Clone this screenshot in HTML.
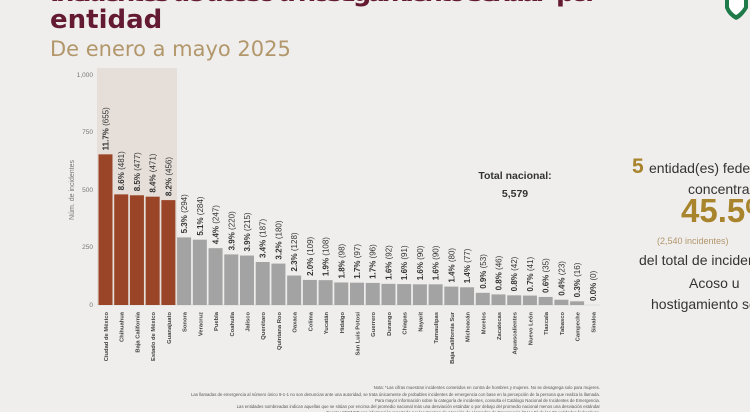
<!DOCTYPE html>
<html><head><meta charset="utf-8"><style>
html,body{margin:0;padding:0;background:#efeeed;}
body{width:750px;height:412px;overflow:hidden;position:relative;font-family:"Liberation Sans","DejaVu Sans",sans-serif;}
</style></head><body>
<svg id="s" width="750" height="412" xmlns="http://www.w3.org/2000/svg" style="position:absolute;left:0;top:0">
<rect width="750" height="412" fill="#efeeed"/>
<text x="50" y="1" font-size="26" font-weight="bold" fill="#641a33" font-family="DejaVu Sans, sans-serif" textLength="548">Incidentes de acoso u hostigamiento sexual* por</text>
<text x="50" y="28" font-size="26" font-weight="bold" fill="#641a33" font-family="DejaVu Sans, sans-serif">entidad</text>
<text x="50" y="56" font-size="21" fill="#b2976b" font-family="DejaVu Sans, sans-serif">De enero a mayo 2025</text>
<path d="M725 0 L748 0 L748 8 Q742 18 736 20 Q728 16 725 8 Z" fill="#1f7a4a"/>
<path d="M729 0 L744 0 L744 7 Q740 13 736 15 Q731 12 729 7 Z" fill="#fff"/>
<rect x="97" y="68" width="80" height="237" fill="#e6dfd9"/>
<line x1="97" y1="305" x2="600" y2="305" stroke="#ccc" stroke-width="0.6"/>
<g font-size="6.5" fill="#777" text-anchor="end">
<text x="93" y="77">1,000</text><text x="93" y="192">500</text><text x="93" y="249">250</text><text x="93" y="307">0</text><text x="93" y="134">750</text>
</g>
<text transform="translate(74,190) rotate(-90)" font-size="7" fill="#777" text-anchor="middle">Núm. de incidentes</text>
<g id="bars"></g>
<text x="515" y="179" font-size="10.5" font-weight="bold" fill="#333" text-anchor="middle">Total nacional:</text>
<text x="515" y="197" font-size="10.5" font-weight="bold" fill="#333" text-anchor="middle">5,579</text>
<text x="632" y="173" font-size="21" font-weight="bold" fill="#a8842c">5</text>
<text x="649" y="173" font-size="14" fill="#333">entidad(es) federativas</text>
<text x="688" y="194" font-size="14" fill="#333">concentran</text>
<text x="681" y="222" font-size="33" font-weight="bold" fill="#a8842c">45.5%</text>
<text x="657" y="244" font-size="9" fill="#b2976b">(2,540 incidentes)</text>
<text x="639" y="265" font-size="14" fill="#333">del total de incidentes de</text>
<text x="689" y="288" font-size="14" fill="#333">Acoso u</text>
<text x="651" y="309" font-size="14" fill="#333">hostigamiento sexual</text>
<g font-size="4.3" fill="#555" text-anchor="end">
<text x="600" y="389">Nota: *Las cifras muestran incidentes cometidos en contra de hombres y mujeres. No se desagrega solo para mujeres.</text>
<text x="600" y="396">Las llamadas de emergencia al número único 9-1-1 no son denuncias ante una autoridad, se trata únicamente de probables incidentes de emergencia con base en la percepción de la persona que realiza la llamada.</text>
<text x="600" y="402">Para mayor información sobre la categoría de incidentes, consulta el Catálogo Nacional de Incidentes de Emergencia.</text>
<text x="600" y="408">Las entidades sombreadas indican aquellas que se sitúan por encima del promedio nacional más una desviación estándar o por debajo del promedio nacional menos una desviación estándar</text>
<text x="600" y="414">Fuente: SESNSP con información reportada por los Centros de Atención de Llamadas de Emergencia (CALLE) de las 32 entidades federativas.</text>
</g>
</svg>
<script>
var d=[["Ciudad de México",655,"11.7%"],["Chihuahua",481,"8.6%"],["Baja California",477,"8.5%"],["Estado de México",471,"8.4%"],["Guanajuato",456,"8.2%"],["Sonora",294,"5.3%"],["Veracruz",284,"5.1%"],["Puebla",247,"4.4%"],["Coahuila",220,"3.9%"],["Jalisco",215,"3.9%"],["Querétaro",187,"3.4%"],["Quintana Roo",180,"3.2%"],["Oaxaca",128,"2.3%"],["Colima",109,"2.0%"],["Yucatán",108,"1.9%"],["Hidalgo",98,"1.8%"],["San Luis Potosí",97,"1.7%"],["Guerrero",96,"1.7%"],["Durango",92,"1.6%"],["Chiapas",91,"1.6%"],["Nayarit",90,"1.6%"],["Tamaulipas",90,"1.6%"],["Baja California Sur",80,"1.4%"],["Michoacán",77,"1.4%"],["Morelos",53,"0.9%"],["Zacatecas",46,"0.8%"],["Aguascalientes",42,"0.8%"],["Nuevo León",41,"0.7%"],["Tlaxcala",35,"0.6%"],["Tabasco",23,"0.4%"],["Campeche",16,"0.3%"],["Sinaloa",0,"0.0%"]];
var g=document.getElementById("bars"),h="";
for(var i=0;i<d.length;i++){var x=98.5+i*15.72,v=d[i][1],y=305-v*0.23,c=i<5?"#9a4528":"#a3a3a3";
h+='<rect x="'+x+'" y="'+y+'" width="14" height="'+(305-y)+'" fill="'+c+'"/>';
h+='<text transform="translate('+(x+10)+','+(y-4)+') rotate(-90)" font-size="8" fill="#333"><tspan font-weight="bold">'+d[i][2]+'</tspan> ('+v+')</text>';
h+='<text transform="translate('+(x+9.5)+',312) rotate(-90)" font-size="5.8" font-weight="bold" fill="#444" text-anchor="end">'+d[i][0]+'</text>';}
g.innerHTML=h;
</script>
</body></html>
